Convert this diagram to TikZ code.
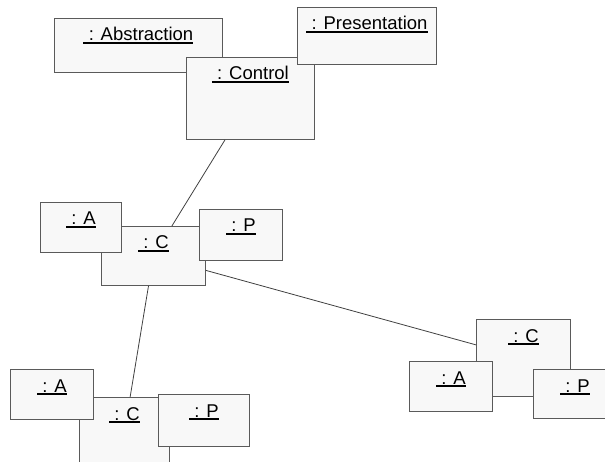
\documentclass[tikz,border=0pt]{standalone}
\usepackage{fontspec}
\setmainfont{Liberation Sans}
\definecolor{boxfill}{HTML}{F8F8F8}
\definecolor{boxline}{HTML}{5A5A5A}
\definecolor{linkline}{HTML}{404040}
\begin{document}
\begin{tikzpicture}[x=1pt,y=-1pt,
    obj/.style={draw=boxline,fill=boxfill,line width=0.9pt,anchor=north west,inner sep=0pt},
    objname/.style={anchor=base,inner sep=0pt,font=\fontsize{18.5}{20}\selectfont},
    uline/.style={line width=1.5pt}]
  \useasboundingbox (0,0) rectangle (605,462);
  \clip (0,0) rectangle (605,462);
  % top triad
  \node[obj,minimum width=168,minimum height=54] (abs) at (54,18) {};
  \node[obj,minimum width=128,minimum height=82] (ctl) at (186,57) {};
  \node[obj,minimum width=139,minimum height=57] (pres) at (297,7) {};
  % middle triad
  \node[obj,minimum width=104,minimum height=59] (c1) at (101,226) {};
  \node[obj,minimum width=81,minimum height=50] (a1) at (40,202) {};
  \node[obj,minimum width=83,minimum height=51] (p1) at (199,209) {};
  % lower left triad
  \node[obj,minimum width=90,minimum height=68] (c2) at (79,397) {};
  \node[obj,minimum width=83,minimum height=50] (a2) at (10,369) {};
  \node[obj,minimum width=91,minimum height=52] (p2) at (158,394) {};
  % lower right triad
  \node[obj,minimum width=94,minimum height=77] (c3) at (476,319) {};
  \node[obj,minimum width=83,minimum height=50] (a3) at (409,361) {};
  \node[obj,minimum width=83,minimum height=49] (p3) at (533,369) {};
  % names
  \foreach \n/\t in {abs/Abstraction,ctl/Control,pres/Presentation,
                     c1/C,a1/A,p1/P,c2/C,a2/A,p2/P,c3/C,a3/A,p3/P} {
    \node[objname] (\n-l) at ([yshift=-23pt]\n.north) {\ : \t};
    \draw[uline] ([yshift=-1.8pt]\n-l.base west) -- ([yshift=-1.8pt]\n-l.base east);
  }
  % links
  \begin{scope}[draw=linkline,line width=0.8pt]
    \draw (ctl) -- (c1);
    \draw (c1) -- (c2);
    \draw (c1) -- (c3);
  \end{scope}
\end{tikzpicture}
\end{document}
